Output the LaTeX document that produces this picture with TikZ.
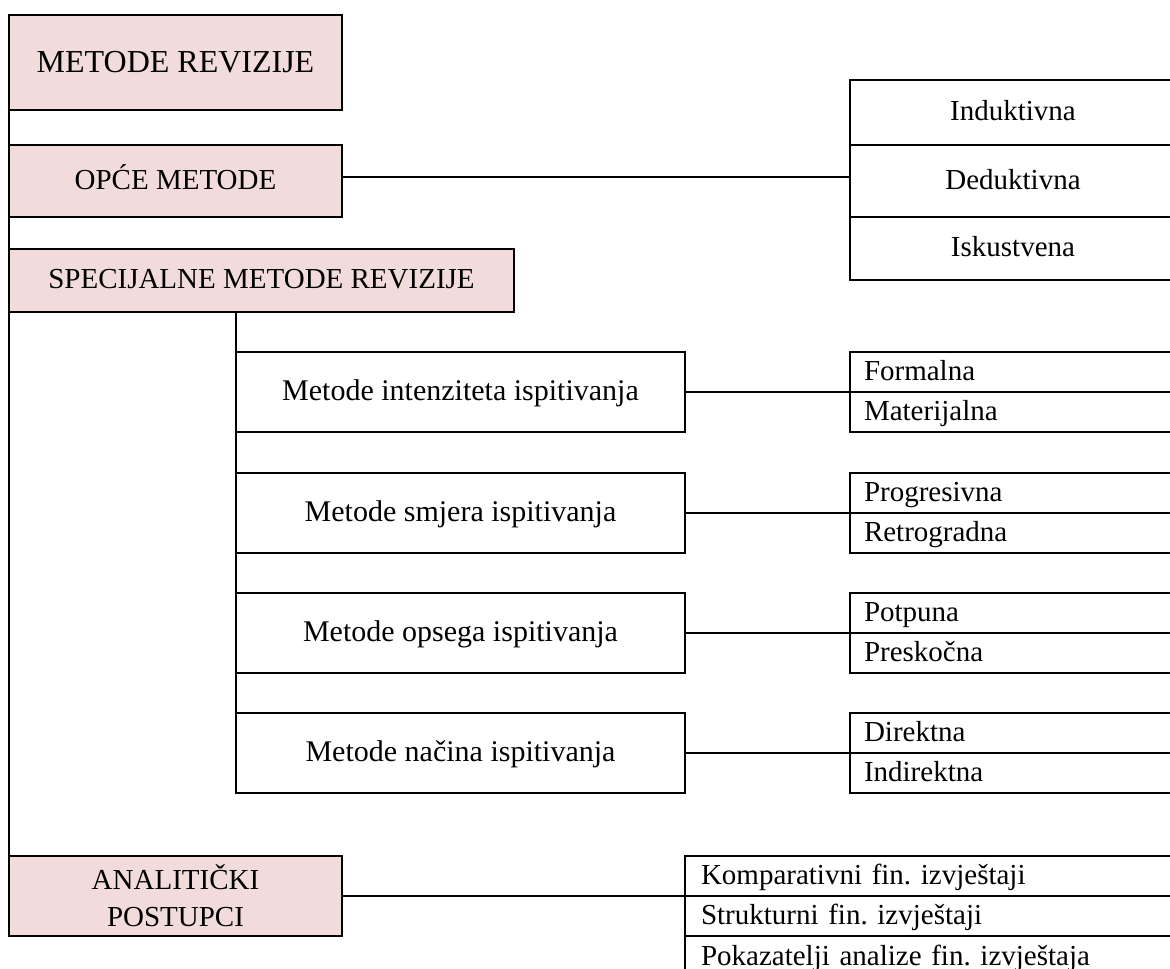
\documentclass[tikz,border=0pt]{standalone}
\usepackage{fontspec}
\setmainfont{Liberation Serif}
\definecolor{pinkc}{HTML}{F2DCDB}
\frenchspacing
\begin{document}
\frenchspacing
\begin{tikzpicture}[x=1pt,y=-1pt,
  box/.style={draw, line width=2pt, anchor=north west, inner sep=0pt, outer sep=0pt, font=\fontsize{29}{34}\selectfont},
  tx/.style={text height=22pt, text depth=6pt},
  pinkbox/.style={box, fill=pinkc, align=center},
  wbox/.style={box, fill=white, align=center, tx},
  mbox/.style={wbox, minimum width=449pt, minimum height=80pt, font=\fontsize{30}{36}\selectfont},
  rowbox/.style={box, fill=white, tx, text width=320pt, align=left, inner xsep=14pt, minimum height=40pt},
  lrowbox/.style={box, fill=white, tx, text width=483pt, align=left, inner xsep=16pt, minimum height=40pt},
  ln/.style={line width=2pt}]
\useasboundingbox (0,0) rectangle (1170,969);
\clip (0,0) rectangle (1170,969);
\fill[white] (0,0) rectangle (1170,969);

% left column
\node[pinkbox, tx, text height=25pt, minimum width=333pt, minimum height=95pt, font=\fontsize{32}{38}\selectfont] (mr) at (9,15) {METODE REVIZIJE};
\node[pinkbox, tx, minimum width=333pt, minimum height=72pt] (opce) at (9,145) {OPĆE METODE};
\node[pinkbox, tx, minimum width=505pt, minimum height=63pt] (spec) at (9,249) {SPECIJALNE METODE REVIZIJE};
\node[pinkbox, minimum width=333pt, minimum height=80pt, font=\fontsize{29}{38}\selectfont] (anal) at (9,856) {ANALITIČKI\\[-1pt]POSTUPCI};

% general methods
\node[wbox, minimum width=326pt, minimum height=65pt] (ind) at (850,80) {Induktivna};
\node[wbox, minimum width=326pt, minimum height=72pt] (ded) at (850,145) {Deduktivna};
\node[wbox, minimum width=326pt, minimum height=63pt] (isk) at (850,217) {Iskustvena};

% special methods
\node[mbox] (int) at (236,352) {Metode intenziteta ispitivanja};
\node[mbox] (smj) at (236,473) {Metode smjera ispitivanja};
\node[mbox] (ops) at (236,593) {Metode opsega ispitivanja};
\node[mbox] (nac) at (236,713) {Metode načina ispitivanja};

\node[rowbox] (form) at (850,352) {Formalna};
\node[rowbox] (mat) at (850,392) {Materijalna};
\node[rowbox] (prog) at (850,473) {Progresivna};
\node[rowbox] (retr) at (850,513) {Retrogradna};
\node[rowbox] (pot) at (850,593) {Potpuna};
\node[rowbox] (pre) at (850,633) {Preskočna};
\node[rowbox] (dir) at (850,713) {Direktna};
\node[rowbox] (indir) at (850,753) {Indirektna};

% analytical procedures
\node[lrowbox] (komp) at (685,856) {Komparativni fin. izvještaji};
\node[lrowbox] (str) at (685,896) {Strukturni fin. izvještaji};
\node[lrowbox, minimum height=60pt, text depth=24pt] (pok) at (685,936) {Pokazatelji analize fin. izvještaja};

% connectors
\draw[ln] (mr.south west) -- (anal.north west);
\draw[ln] ([yshift=4pt]opce.east) -- ([yshift=4pt]ded.west);
\draw[ln] (spec.south west -| int.west) -- (nac.south west);
\draw[ln] (int.east) -- (form.south west);
\draw[ln] (smj.east) -- (prog.south west);
\draw[ln] (ops.east) -- (pot.south west);
\draw[ln] (nac.east) -- (dir.south west);
\draw[ln] (anal.east) -- (komp.south west);
\end{tikzpicture}
\end{document}
